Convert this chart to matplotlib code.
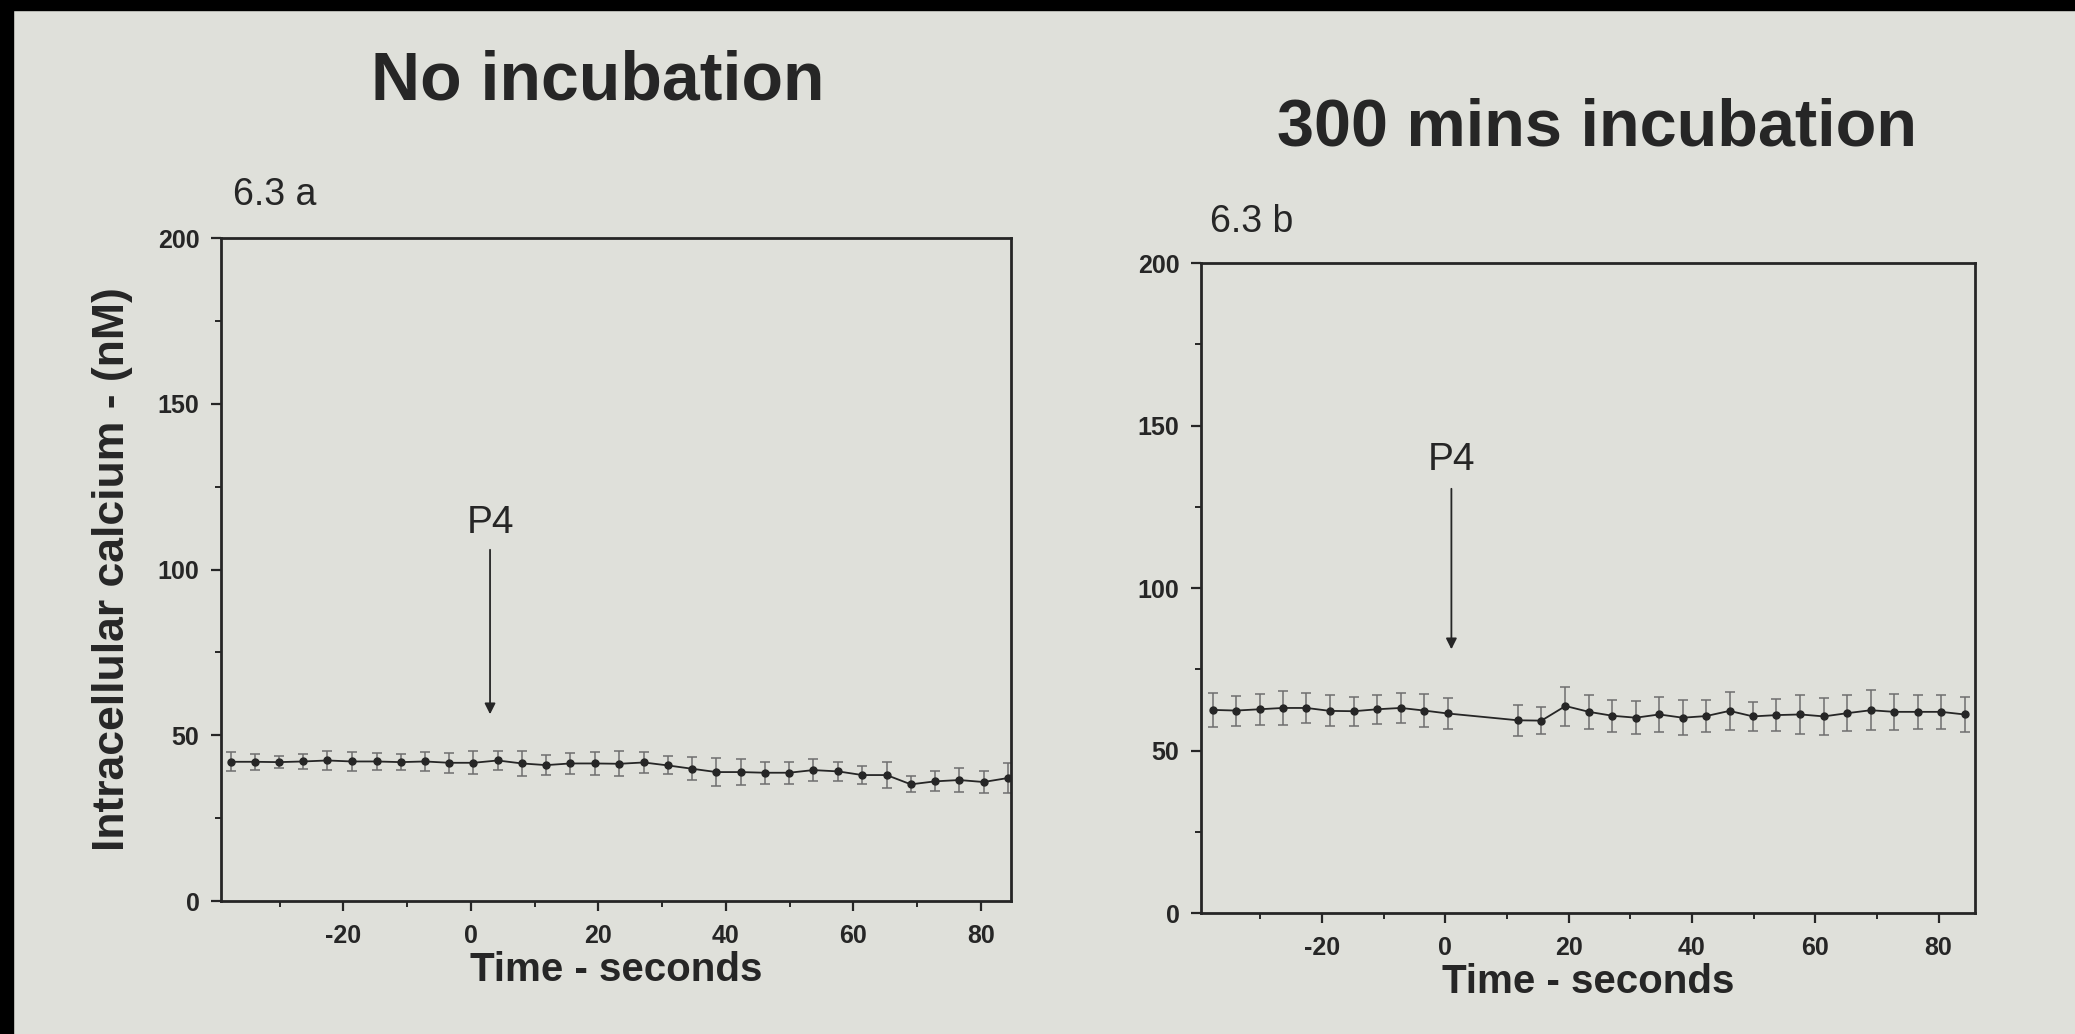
import numpy as np
import matplotlib
matplotlib.use("Agg")
import matplotlib.pyplot as plt
from matplotlib.patches import Rectangle
from matplotlib.ticker import MultipleLocator

plt.rcParams['font.family'] = ['Liberation Sans', 'DejaVu Sans']
plt.rcParams['axes.unicode_minus'] = False

# tempo de cada leitura (s), igual nos dois paineis
time_s = [-37.7, -33.9, -30.1, -26.3, -22.5, -18.7, -14.8, -11.0, -7.2, -3.4,
          0.4, 4.2, 8.0, 11.8, 15.6, 19.5, 23.3, 27.1, 30.9, 34.7,
          38.5, 42.3, 46.1, 49.9, 53.7, 57.6, 61.4, 65.2, 69.0, 72.8,
          76.6, 80.4, 84.2]

# 6.3 a - sem incubacao
calcium_a = [42.0, 42.0, 41.9, 42.1, 42.4, 42.1, 42.1, 41.9, 42.1, 41.7,
             41.7, 42.4, 41.5, 41.0, 41.5, 41.5, 41.4, 41.8, 40.9, 39.9,
             38.9, 38.9, 38.7, 38.7, 39.5, 39.1, 38.0, 38.0, 35.2, 36.1,
             36.5, 35.9, 37.1]
err_a = [2.9, 2.4, 1.9, 2.4, 2.9, 2.8, 2.5, 2.5, 2.8, 3.0,
         3.5, 3.0, 3.8, 3.0, 3.2, 3.5, 3.8, 3.2, 2.7, 3.4,
         4.2, 3.9, 3.3, 3.3, 3.4, 2.8, 2.8, 3.8, 2.4, 3.0,
         3.5, 3.2, 4.5]

# 6.3 b - 300 min de incubacao (dois pontos ausentes)
calcium_b = [62.5, 62.3, 62.7, 63.1, 63.1, 62.2, 62.1, 62.7, 63.1, 62.3,
             61.4, np.nan, np.nan, 59.3, 59.2, 63.7, 61.9, 60.7, 60.1, 61.1,
             60.1, 60.6, 62.2, 60.5, 60.9, 61.1, 60.5, 61.5, 62.4, 61.9,
             61.9, 61.9, 61.1]
err_b = [5.3, 4.6, 4.7, 5.3, 4.6, 4.8, 4.5, 4.4, 4.6, 5.0,
         4.9, np.nan, np.nan, 4.8, 4.1, 6.0, 5.3, 4.9, 5.0, 5.3,
         5.4, 5.0, 5.8, 4.5, 4.9, 6.0, 5.6, 5.6, 6.2, 5.5,
         5.2, 5.2, 5.3]

paper = '#dfe0da'
ink = '#262626'

fig = plt.figure(figsize=(20.75, 10.34), dpi=100, facecolor=paper)

ax_a = fig.add_axes([0.1065, 0.1286, 0.3807, 0.6412])
ax_b = fig.add_axes([0.5788, 0.1170, 0.3730, 0.6286])


def draw_panel(ax, t, y, e, xlim, arrow_x, arrow_top, arrow_tip, label_y):
    t = np.array(t)
    y = np.array(y)
    e = np.array(e)
    ok = ~np.isnan(y)
    ax.set_facecolor(paper)
    ax.errorbar(t[ok], y[ok], yerr=e[ok], fmt='none', ecolor='#6e6e6e',
                elinewidth=1.1, capsize=3.5, capthick=1.1, zorder=2)
    ax.plot(t[ok], y[ok], '-o', color=ink, lw=1.3, ms=5, zorder=3)

    ax.annotate('', xy=(arrow_x, arrow_tip), xytext=(arrow_x, arrow_top),
                arrowprops=dict(arrowstyle='-|>', color=ink, lw=1.3,
                                mutation_scale=16))
    ax.text(arrow_x, label_y, 'P4', ha='center', va='baseline',
            fontsize=28, color=ink)

    ax.set_xlim(*xlim)
    ax.set_ylim(0, 200)
    ax.set_xticks([-20, 0, 20, 40, 60, 80])
    ax.set_yticks([0, 50, 100, 150, 200])
    ax.xaxis.set_minor_locator(MultipleLocator(10))
    ax.yaxis.set_minor_locator(MultipleLocator(25))
    ax.tick_params(which='major', direction='out', length=7.5, width=1.6,
                   colors=ink, labelsize=18, pad=8)
    ax.tick_params(which='minor', direction='out', length=4.5, width=1.4,
                   colors=ink)
    ax.tick_params(axis='x', which='major', pad=9)
    for lab in ax.get_xticklabels() + ax.get_yticklabels():
        lab.set_fontweight('bold')
    for s in ax.spines.values():
        s.set_linewidth(2.0)
        s.set_color(ink)
    ax.set_xlabel('Time - seconds', fontsize=29, fontweight='bold',
                  color=ink, labelpad=2)


draw_panel(ax_a, time_s, calcium_a, err_a, (-39.2, 84.7), 3.0, 106.8, 55.5, 111)
draw_panel(ax_b, time_s, calcium_b, err_b, (-39.6, 85.9), 1.0, 131.4, 80.3, 136.3)

ax_a.set_ylabel('Intracellular calcium - (nM)', fontsize=32,
                fontweight='bold', color=ink, labelpad=18)

fig.text(598 / 2075, 1 - 99.5 / 1034, 'No incubation', ha='center',
         va='baseline', fontsize=49, fontweight='bold', color=ink)
fig.text(1597 / 2075, 1 - 146 / 1034, '300 mins incubation', ha='center',
         va='baseline', fontsize=48, fontweight='bold', color=ink)
fig.text(233 / 2075, 1 - 205 / 1034, '6.3 a', ha='left', va='baseline',
         fontsize=27, color=ink)
fig.text(1210 / 2075, 1 - 232 / 1034, '6.3 b', ha='left', va='baseline',
         fontsize=27, color=ink)

# bordas escuras da foto
fig.add_artist(Rectangle((0, 0), 13 / 2075, 1, transform=fig.transFigure,
                         color='black', zorder=10))
fig.add_artist(Rectangle((0, 1 - 10 / 1034), 1, 10 / 1034,
                         transform=fig.transFigure, color='black', zorder=10))

fig.savefig('out.png', dpi=100, facecolor=paper)
